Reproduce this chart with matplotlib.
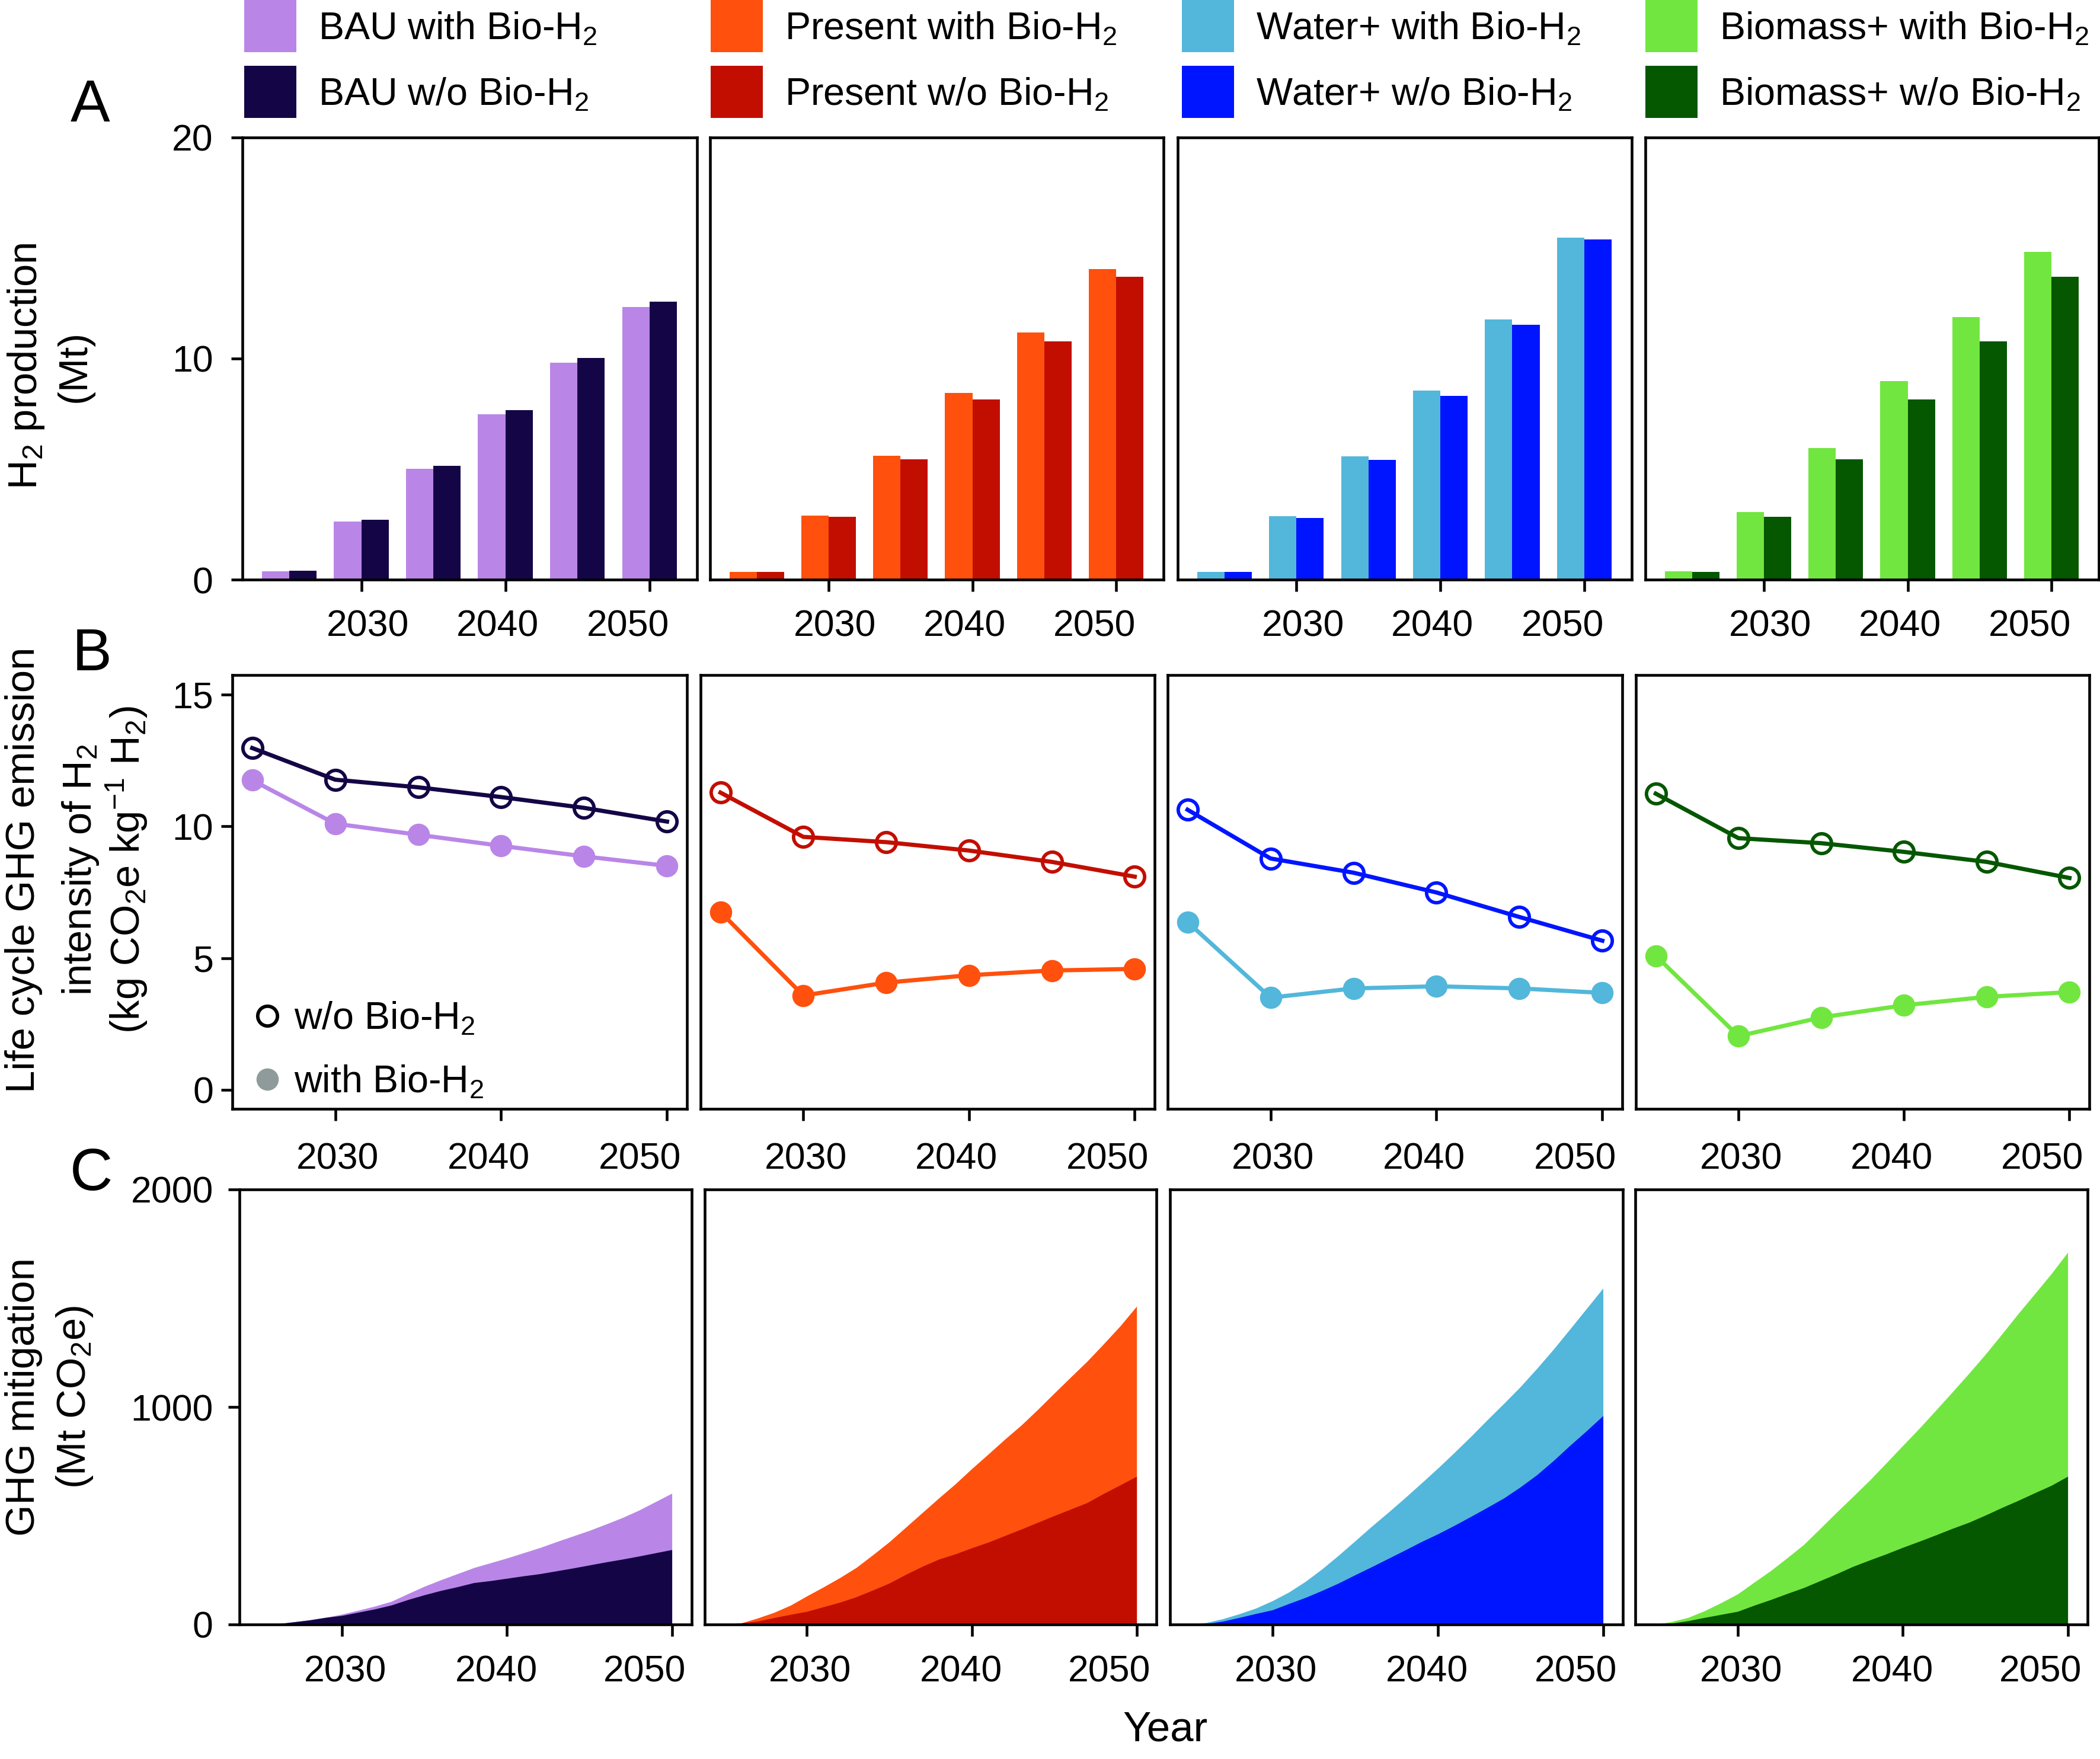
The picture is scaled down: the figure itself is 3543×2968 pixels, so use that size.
import matplotlib
matplotlib.use('Agg')
import matplotlib.pyplot as plt
from matplotlib.patches import Rectangle
from matplotlib.lines import Line2D
import numpy as np

plt.rcParams['font.family'] = ['Liberation Sans', 'DejaVu Sans']
plt.rcParams['mathtext.fontset'] = 'custom'
plt.rcParams['mathtext.rm'] = 'Liberation Sans'
plt.rcParams['mathtext.it'] = 'Liberation Sans:italic'
plt.rcParams['mathtext.bf'] = 'Liberation Sans:bold'

# ---------------- data ----------------
scenarios = ['BAU', 'Present', 'Water+', 'Biomass+']
color_with = ['#B986E8', '#FF500D', '#52B7DA', '#72E640']
color_wo = ['#140646', '#C20E00', '#0015FF', '#055700']

years5 = [2025, 2030, 2035, 2040, 2045, 2050]

# Panel A: H2 production (Mt)
prod_bau_with = [0.37, 2.63, 5.02, 7.49, 9.82, 12.34]
prod_bau_wo = [0.39, 2.70, 5.16, 7.66, 10.02, 12.57]
prod_present_with = [0.34, 2.90, 5.61, 8.45, 11.18, 14.06]
prod_present_wo = [0.34, 2.83, 5.43, 8.14, 10.78, 13.69]
prod_water_with = [0.34, 2.87, 5.58, 8.54, 11.77, 15.46]
prod_water_wo = [0.34, 2.80, 5.42, 8.32, 11.53, 15.38]
prod_biomass_with = [0.37, 3.05, 5.95, 8.99, 11.88, 14.83]
prod_biomass_wo = [0.34, 2.83, 5.43, 8.14, 10.78, 13.69]

# Panel B: life cycle GHG intensity (kg CO2e / kg H2)
ghg_bau_wo = [12.97, 11.77, 11.48, 11.11, 10.70, 10.18]
ghg_bau_with = [11.75, 10.10, 9.68, 9.26, 8.86, 8.50]
ghg_present_wo = [11.28, 9.60, 9.40, 9.08, 8.65, 8.09]
ghg_present_with = [6.75, 3.58, 4.07, 4.35, 4.53, 4.59]
ghg_water_wo = [10.63, 8.78, 8.24, 7.49, 6.56, 5.66]
ghg_water_with = [6.37, 3.50, 3.85, 3.93, 3.85, 3.68]
ghg_biomass_wo = [11.24, 9.55, 9.36, 9.03, 8.65, 8.04]
ghg_biomass_with = [5.09, 2.04, 2.75, 3.21, 3.53, 3.71]

# Panel C: GHG mitigation (Mt CO2e), yearly 2025-2050
mit_years = list(range(2025, 2051))
mit_bau_with = [0, 2, 11, 20, 32, 47, 65, 84, 106, 141, 175, 205, 233, 261, 283, 305,
                329, 353, 380, 406, 432, 461, 491, 525, 564, 603]
mit_bau_wo = [0, 2, 11, 20, 32, 41, 56, 71, 89, 114, 136, 156, 173, 192, 201, 212,
              223, 233, 246, 259, 273, 287, 300, 314, 329, 344]
mit_present_with = [0, 6, 29, 55, 88, 131, 172, 215, 262, 320, 380, 447, 514, 581, 646,
                    716, 783, 851, 916, 988, 1063, 1137, 1210, 1290, 1372, 1463]
mit_present_wo = [0, 7, 15, 31, 46, 60, 81, 102, 127, 158, 190, 230, 267, 300, 324, 352,
                  378, 408, 438, 469, 500, 530, 560, 602, 641, 681]
mit_water_with = [0, 9, 26, 49, 75, 109, 149, 198, 255, 318, 384, 451, 515, 581, 649,
                  718, 790, 864, 941, 1016, 1093, 1177, 1265, 1358, 1452, 1546]
mit_water_wo = [0, 4, 15, 32, 50, 67, 96, 124, 156, 190, 228, 265, 303, 341, 380, 416,
                455, 496, 538, 581, 632, 688, 753, 823, 890, 960]
mit_biomass_with = [0, 13, 32, 63, 100, 140, 194, 247, 306, 367, 441, 516, 589, 663, 742,
                    822, 901, 984, 1068, 1153, 1241, 1334, 1429, 1520, 1612, 1711]
mit_biomass_wo = [0, 6, 17, 32, 46, 60, 88, 114, 142, 169, 201, 233, 267, 296, 324, 354,
                  382, 411, 441, 469, 502, 537, 570, 605, 639, 681]

prod_with = [prod_bau_with, prod_present_with, prod_water_with, prod_biomass_with]
prod_wo = [prod_bau_wo, prod_present_wo, prod_water_wo, prod_biomass_wo]
ghg_with = [ghg_bau_with, ghg_present_with, ghg_water_with, ghg_biomass_with]
ghg_wo = [ghg_bau_wo, ghg_present_wo, ghg_water_wo, ghg_biomass_wo]
mit_with = [mit_bau_with, mit_present_with, mit_water_with, mit_biomass_with]
mit_wo = [mit_bau_wo, mit_present_wo, mit_water_wo, mit_biomass_wo]

xtick_vals = [2030, 2040, 2050]
xtick_labels = ['2030', '2040', '2050']

# ---------------- layout ----------------
W, H = 3543, 2968
fig = plt.figure(figsize=(W / 300, H / 300), dpi=300)


def px_axes(x0, x1, ytop, ybot):
    return fig.add_axes([x0 / W, 1 - ybot / H, (x1 - x0) / W, (ybot - ytop) / H])


posA = [(409, 1176), (1198, 1963), (1987, 2753), (2776, 3541)]
posB = [(392, 1159), (1182, 1948), (1970, 2737), (2760, 3525)]
posC = [(404, 1167), (1189, 1951), (1974, 2738), (2759, 3522)]
rowA = (232, 978)
rowB = (1139, 1871)
rowC = (2007, 2741)

TICK_FS = 15
LW_SPINE = 1.1


def style_axes(ax, ypad, xlabel_pad, label_shift):
    for s in ax.spines.values():
        s.set_linewidth(LW_SPINE)
    ax.set_xticks(xtick_vals)
    ax.set_xticklabels([])
    ax.set_xticks([v + d for v, d in zip(xtick_vals, label_shift)], minor=True)
    ax.set_xticklabels(xtick_labels, minor=True)
    ax.tick_params(axis='x', which='major', direction='out', length=4.8, width=1.1)
    ax.tick_params(axis='x', which='minor', length=0, pad=xlabel_pad, labelsize=TICK_FS)
    ax.tick_params(axis='y', which='major', direction='out', length=4.6, width=1.1,
                   pad=ypad, labelsize=TICK_FS)


# Panel A: bars
for i in range(4):
    ax = px_axes(posA[i][0], posA[i][1], rowA[0], rowA[1])
    x = np.array(years5, dtype=float)
    ax.bar(x - 0.95, prod_with[i], width=1.9, color=color_with[i], linewidth=0)
    ax.bar(x + 0.95, prod_wo[i], width=1.9, color=color_wo[i], linewidth=0)
    ax.set_xlim(2021.75, 2053.3)
    ax.set_ylim(0, 20)
    style_axes(ax, 7.2, 12.0, (0.45, -0.55, -1.5))
    if i == 0:
        ax.set_yticks([0, 10, 20])
    else:
        ax.set_yticks([])
        ax.tick_params(axis='y', left=False)

# Panel B: lines
for i in range(4):
    ax = px_axes(posB[i][0], posB[i][1], rowB[0], rowB[1])
    ax.plot(years5, ghg_with[i], color=color_with[i], lw=1.7, marker='o', ms=8,
            mfc=color_with[i], mec=color_with[i])
    ax.plot(years5, ghg_wo[i], color=color_wo[i], lw=1.7, marker='o', ms=8,
            mfc='none', mec=color_wo[i], mew=1.4)
    ax.set_xlim(2023.8, 2051.2)
    ax.set_ylim(-0.72, 15.74)
    style_axes(ax, 3.1, 13.4, (0.15, -0.75, -1.65))
    if i == 0:
        ax.set_yticks([0, 5, 10, 15])
        handles = [Line2D([], [], ls='none', marker='o', ms=8, mfc='none', mec='black', mew=1.4),
                   Line2D([], [], ls='none', marker='o', ms=8, mfc='#8F9A9A', mec='#8F9A9A')]
        ax.legend(handles, ['w/o Bio-H$_2$', 'with Bio-H$_2$'], loc='lower left',
                  bbox_to_anchor=(0.035, 0.02), borderaxespad=0, borderpad=0,
                  frameon=False, fontsize=15.5, handlelength=1.0, handletextpad=0.2,
                  labelspacing=0.7)
    else:
        ax.set_yticks([])
        ax.tick_params(axis='y', left=False)

# Panel C: areas
for i in range(4):
    ax = px_axes(posC[i][0], posC[i][1], rowC[0], rowC[1])
    ax.fill_between(mit_years, 0, mit_with[i], color=color_with[i], linewidth=0)
    ax.fill_between(mit_years, 0, mit_wo[i], color=color_wo[i], linewidth=0)
    ax.set_xlim(2023.8, 2051.2)
    ax.set_ylim(0, 2000)
    style_axes(ax, 6.0, 12.2, (0.2, -0.65, -1.65))
    if i == 0:
        ax.set_yticks([0, 1000, 2000])
    else:
        ax.set_yticks([])
        ax.tick_params(axis='y', left=False)

# Top legend (manual patches + text)
leg_cols = [412, 1199, 1994, 2776]
leg_rows = [(0, 67), (111, 178)]  # (patch top, text baseline) in px
for i, name in enumerate(scenarios):
    for r, (ptop, base) in enumerate(leg_rows):
        col = color_with[i] if r == 0 else color_wo[i]
        kind = 'with' if r == 0 else 'w/o'
        fig.add_artist(Rectangle((leg_cols[i] / W, 1 - (ptop + 88) / H), 88 / W, 88 / H,
                                 transform=fig.transFigure, facecolor=col, edgecolor='none'))
        fig.text((leg_cols[i] + 125) / W, 1 - base / H, f'{name} {kind} Bio-H$_2$',
                 ha='left', va='baseline', fontsize=15.5)


# Y labels (one text per line)
def ylab(xc, yc, s):
    fig.text(xc / W, 1 - yc / H, s, rotation=90, ha='center', va='center', fontsize=16.5)


ylab(44, 618, 'H$_2$ production')
ylab(126, 618, '(Mt)')
ylab(40, 1468, 'Life cycle GHG emission')
ylab(136, 1468, 'intensity of H$_2$')
ylab(214, 1468, '(kg CO$_2$e kg$^{-1}$ H$_2$)')
ylab(40, 2357, 'GHG mitigation')
ylab(126, 2357, '(Mt CO$_2$e)')

# Panel letters
fig.text(152 / W, 1 - 179 / H, 'A', ha='center', va='center', fontsize=24)
fig.text(155 / W, 1 - 1105 / H, 'B', ha='center', va='center', fontsize=24)
fig.text(154 / W, 1 - 1982 / H, 'C', ha='center', va='center', fontsize=24)

fig.text(1966 / W, 1 - 2919 / H, 'Year', ha='center', va='center', fontsize=17)

fig.savefig('out.png', dpi=300)
